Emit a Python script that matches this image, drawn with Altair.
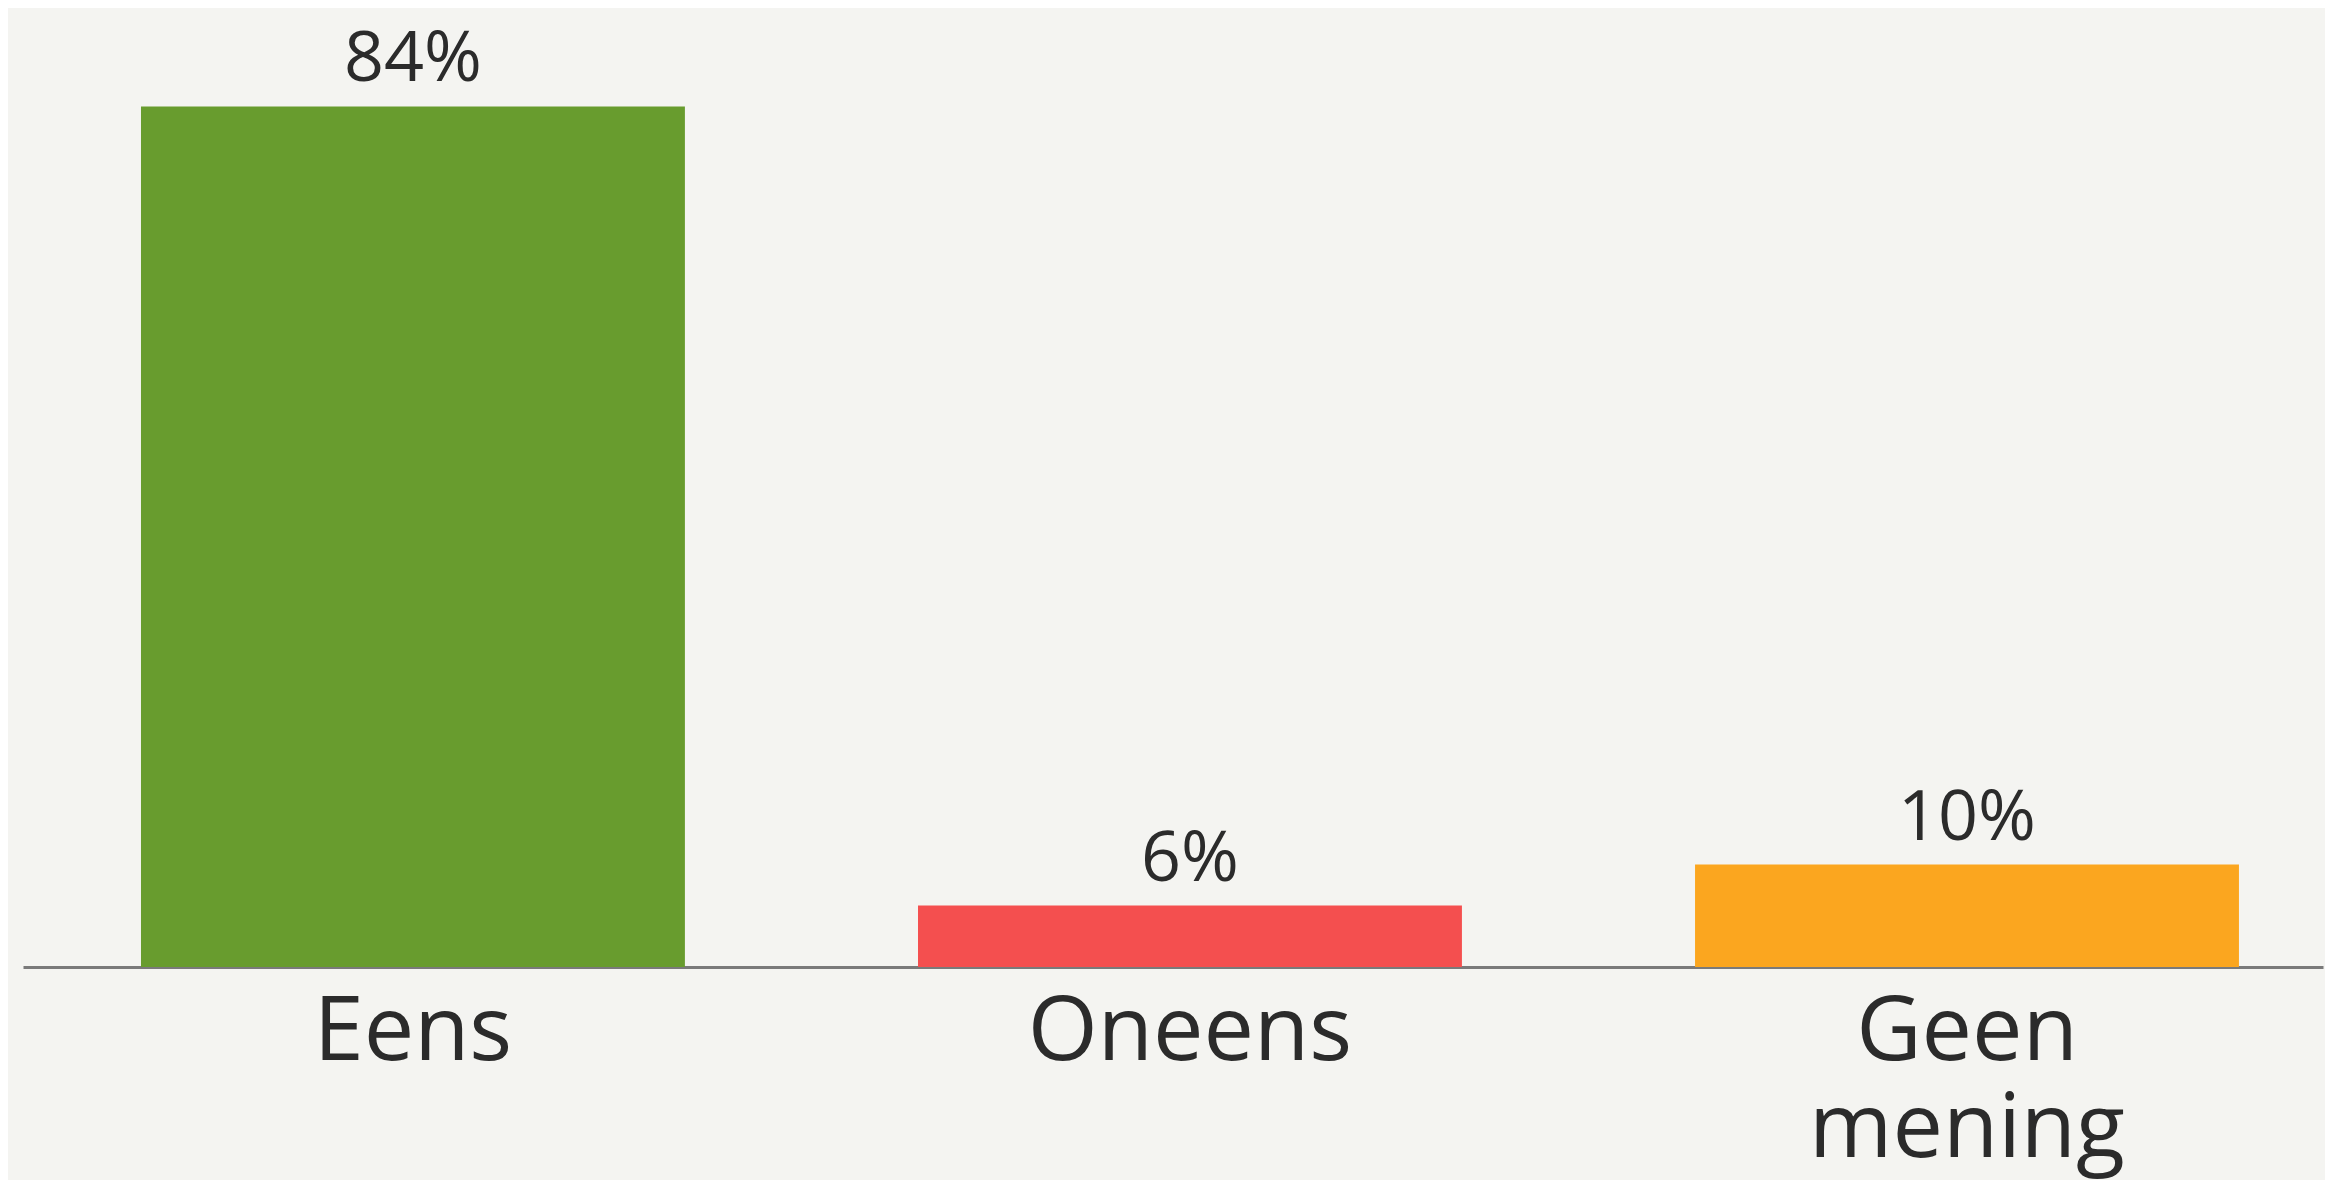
import altair as alt
import pandas as pd

categories = ["Eens", "Oneens", "Geen mening"]
values = [84, 6, 10]
colors = ["#689c2e", "#f44f4f", "#fba61f"]
labels = ["84%", "6%", "10%"]

df = pd.DataFrame({"cat": categories, "val": values, "col": colors, "lab": labels})

FONT = "Open Sans"

x = alt.X(
    "cat:N",
    sort=categories,
    title=None,
    scale=alt.Scale(paddingInner=0.3, paddingOuter=0.13, align=0.584),
    axis=alt.Axis(
        labelAngle=0,
        labelFontSize=90,
        labelFont=FONT,
        labelColor="#2b2b2b",
        labelPadding=21,
        labelLineHeight=97,
        labelLimit=800,
        labelExpr="datum.label == 'Geen mening' ? ['Geen', 'mening'] : datum.label",
        ticks=False,
        domainColor="#7a7a7a",
        domainWidth=3,
        grid=False,
    ),
)
y = alt.Y("val:Q", scale=alt.Scale(domain=[0, 90], nice=False), axis=None)

bars = alt.Chart(df).mark_bar().encode(
    x=x, y=y, color=alt.Color("col:N", scale=None)
)
text = alt.Chart(df).mark_text(
    baseline="bottom", dy=-10, fontSize=70, font=FONT, color="#2b2b2b"
).encode(x=alt.X("cat:N", sort=categories), y=y, text="lab:N")

chart = (
    alt.layer(bars, text)
    .properties(
        width=2300,
        height=922,
        padding={"left": 15, "top": 37, "right": 2, "bottom": 213},
        autosize=alt.AutoSizeParams(type="none"),
        background="#f4f4f1",
    )
    .configure_view(stroke=None)
)

chart.save("out.html", embed_options={"renderer": "svg", "actions": False})
